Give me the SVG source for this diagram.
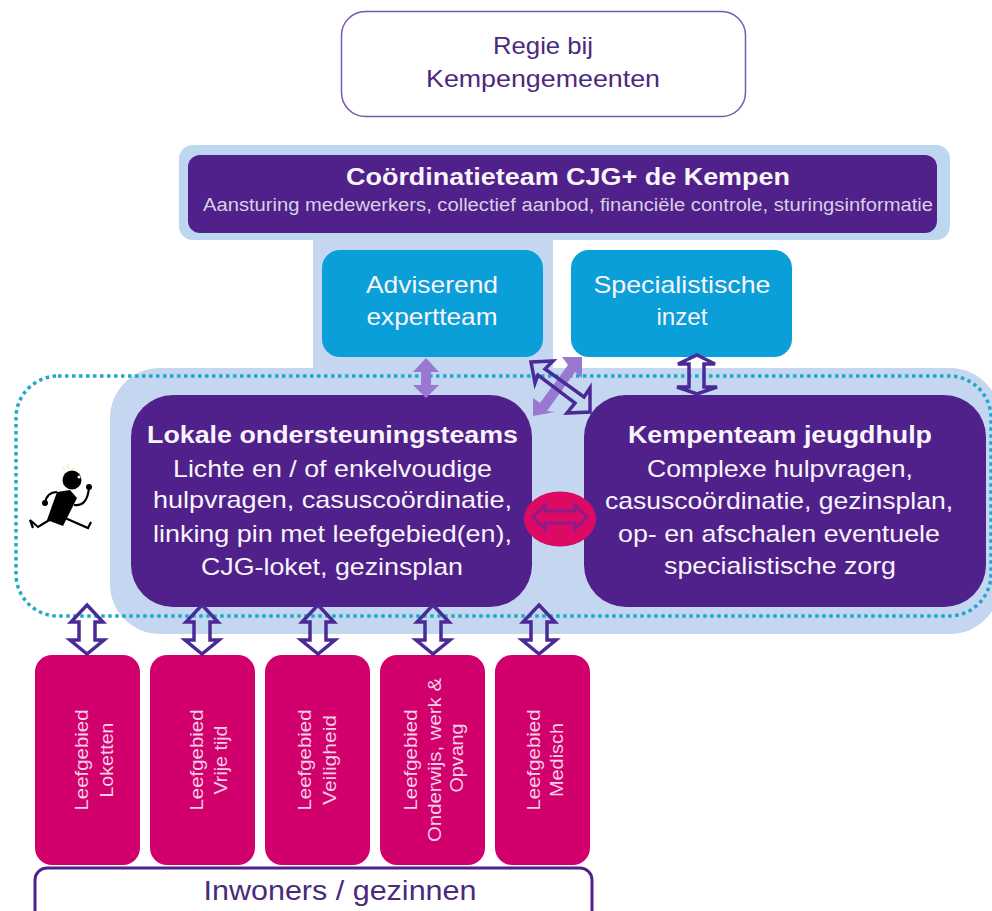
<svg xmlns="http://www.w3.org/2000/svg" width="992" height="911" viewBox="0 0 992 911">
<style>
text{font-family:"Liberation Sans",Arial,sans-serif;text-anchor:middle}
.w{fill:#f8f4fa}
.p{fill:#50218a}
.b{fill:#0a9fd8}
.m{fill:#d1006c}
.l{fill:#c5d6f1}
.t{font-size:24px}
.v{font-size:18px;fill:#f3cfe3}
.o{fill:none;stroke:#4a2a96;stroke-width:3.500;stroke-linejoin:miter}
.s{fill:#9878d0}
</style>
<rect width="992" height="911" fill="#fff"/>
<g id="panels">
<rect x="179" y="145" width="771" height="95" rx="14" fill="#bdd7f0"/>
<rect class="l" x="313" y="235" width="240" height="140"/>
<rect class="l" x="110" y="368" width="890" height="266" rx="50"/>
</g>
<g id="regie">
<rect x="341.500" y="11.500" width="404" height="105" rx="24" fill="#fff" stroke="#7a5aa6" stroke-width="1.500"/>
<text class="t" x="543" y="54" fill="#4a2a7c" textLength="100" lengthAdjust="spacingAndGlyphs">Regie bij</text>
<text class="t" x="543" y="87" fill="#4a2a7c" textLength="234" lengthAdjust="spacingAndGlyphs">Kempengemeenten</text>
</g>
<g id="coordinatieteam">
<rect class="p" x="188" y="155" width="749" height="78" rx="12"/>
<text x="568" y="185" class="t w" font-weight="bold" textLength="444" lengthAdjust="spacingAndGlyphs">Coördinatieteam CJG+ de Kempen</text>
<text x="568" y="211" font-size="18" fill="#d9cfe6" textLength="730" lengthAdjust="spacingAndGlyphs">Aansturing medewerkers, collectief aanbod, financiële controle, sturingsinformatie</text>
</g>
<g id="expertteam">
<rect class="b" x="322" y="250" width="221" height="107" rx="18"/>
<text class="t w" x="432" y="293" textLength="132" lengthAdjust="spacingAndGlyphs">Adviserend</text>
<text class="t w" x="432" y="325" textLength="131" lengthAdjust="spacingAndGlyphs">expertteam</text>
</g>
<g id="specialistisch">
<rect class="b" x="571" y="250" width="221" height="107" rx="18"/>
<text class="t w" x="682" y="293" textLength="177" lengthAdjust="spacingAndGlyphs">Specialistische</text>
<text class="t w" x="682" y="325" textLength="51" lengthAdjust="spacingAndGlyphs">inzet</text>
</g>
<g id="lokaal">
<rect class="p" x="131" y="395" width="401" height="212" rx="42"/>
<text class="t w" x="332.500" y="443" font-weight="bold" textLength="371" lengthAdjust="spacingAndGlyphs">Lokale ondersteuningsteams</text>
<text class="t w" x="332.500" y="477" textLength="319" lengthAdjust="spacingAndGlyphs">Lichte en / of enkelvoudige</text>
<text class="t w" x="332.500" y="508" textLength="359" lengthAdjust="spacingAndGlyphs">hulpvragen, casuscoördinatie,</text>
<text class="t w" x="332.500" y="542" textLength="359" lengthAdjust="spacingAndGlyphs">linking pin met leefgebied(en),</text>
<text class="t w" x="332" y="575" textLength="262" lengthAdjust="spacingAndGlyphs">CJG-loket, gezinsplan</text>
</g>
<g id="kempenteam">
<rect class="p" x="584" y="395" width="402" height="212" rx="42"/>
<text class="t w" x="780" y="443" font-weight="bold" textLength="304" lengthAdjust="spacingAndGlyphs">Kempenteam jeugdhulp</text>
<text class="t w" x="780" y="477" textLength="266" lengthAdjust="spacingAndGlyphs">Complexe hulpvragen,</text>
<text class="t w" x="779" y="509" textLength="348" lengthAdjust="spacingAndGlyphs">casuscoördinatie, gezinsplan,</text>
<text class="t w" x="779" y="542" textLength="322" lengthAdjust="spacingAndGlyphs">op- en afschalen eventuele</text>
<text class="t w" x="780" y="574" textLength="232" lengthAdjust="spacingAndGlyphs">specialistische zorg</text>
</g>
<g id="leef1">
<rect class="m" x="35" y="655" width="105" height="210" rx="17"/>
<text class="v" transform="translate(88 760) rotate(-90)" textLength="101" lengthAdjust="spacingAndGlyphs">Leefgebied</text>
<text class="v" transform="translate(113 760) rotate(-90)" textLength="75" lengthAdjust="spacingAndGlyphs">Loketten</text>
</g>
<g id="leef2">
<rect class="m" x="150" y="655" width="105" height="210" rx="17"/>
<text class="v" transform="translate(203 760) rotate(-90)" textLength="101" lengthAdjust="spacingAndGlyphs">Leefgebied</text>
<text class="v" transform="translate(227 760) rotate(-90)" textLength="69" lengthAdjust="spacingAndGlyphs">Vrije tijd</text>
</g>
<g id="leef3">
<rect class="m" x="265" y="655" width="105" height="210" rx="17"/>
<text class="v" transform="translate(311 760) rotate(-90)" textLength="101" lengthAdjust="spacingAndGlyphs">Leefgebied</text>
<text class="v" transform="translate(336 760) rotate(-90)" textLength="90" lengthAdjust="spacingAndGlyphs">Veiligheid</text>
</g>
<g id="leef4">
<rect class="m" x="380" y="655" width="105" height="210" rx="17"/>
<text class="v" transform="translate(417 760) rotate(-90)" textLength="101" lengthAdjust="spacingAndGlyphs">Leefgebied</text>
<text class="v" transform="translate(441 760) rotate(-90)" textLength="164" lengthAdjust="spacingAndGlyphs">Onderwijs, werk &amp;</text>
<text class="v" transform="translate(463 758) rotate(-90)" textLength="69" lengthAdjust="spacingAndGlyphs">Opvang</text>
</g>
<g id="leef5">
<rect class="m" x="495" y="655" width="95" height="210" rx="17"/>
<text class="v" transform="translate(540 760) rotate(-90)" textLength="101" lengthAdjust="spacingAndGlyphs">Leefgebied</text>
<text class="v" transform="translate(563 760) rotate(-90)" textLength="74" lengthAdjust="spacingAndGlyphs">Medisch</text>
</g>
<g id="inwoners">
<rect x="35" y="868" width="557" height="60" rx="12" fill="#fff" stroke="#50218a" stroke-width="3"/>
<text x="340" y="900" font-size="27" fill="#4a2a7c" textLength="273" lengthAdjust="spacingAndGlyphs">Inwoners / gezinnen</text>
</g>
<g id="figuur">
<circle cx="72" cy="480" r="9.500" fill="#000"/>
<circle cx="79" cy="477" r="1.500" fill="#fff"/>
<path d="M57 492 L70 490 L77 498 L63 526 L47 520 Z" fill="#000"/>
<path d="M57 492 Q47 492 45 503 M74 505 Q87 507 89 488 M51 519 L38 527 L30 520 L33 528 M65 518 L88 528 L91 522" fill="none" stroke="#000" stroke-width="2.200"/>
<circle cx="45" cy="503" r="3" fill="#000"/><circle cx="89" cy="487" r="3" fill="#000"/>
<path d="M62 467 L64 470 M68 464 L68 468 M74 467 L72 470" fill="none" stroke="#f2e88a" stroke-width="1"/>
</g>
<g id="connectors">
<rect x="16" y="376" width="975" height="240" rx="42" fill="none" stroke="#1fa9c9" stroke-width="3.500" stroke-dasharray="3.500 3.500"/>
<path class="s" d="M426 358 L439 372 L431 372 L431 385 L439 385 L426 398 L413 385 L421 385 L421 372 L413 372 Z"/>
<path class="s" d="M533 416 L533 398 L540 403 L568 365 L562 357 L582 357 L582 378 L575 372 L547 411 L555 412 Z"/>
<path class="o" d="M531 362 L553 361 L545 369 L584 397 L590 388 L590 412 L567 413 L575 403 L538 375 L535 383 Z"/>
<path class="o" d="M697 355 L715 364 L704 364 L704 387 L717 387 L697 394 L677 387 L689 387 L689 364 L678 364 Z"/>
<path class="o" d="M87 605 L103 622 L95 622 L95 640 L104 640 L87 654 L70 640 L79 640 L79 622 L71 622 Z"/>
<path class="o" d="M202 605 L218 622 L210 622 L210 640 L219 640 L202 654 L185 640 L194 640 L194 622 L186 622 Z"/>
<path class="o" d="M318 605 L334 622 L326 622 L326 640 L335 640 L318 654 L301 640 L310 640 L310 622 L302 622 Z"/>
<path class="o" d="M433 605 L449 622 L441 622 L441 640 L450 640 L433 654 L416 640 L425 640 L425 622 L417 622 Z"/>
<path class="o" d="M539 605 L555 622 L547 622 L547 640 L556 640 L539 654 L522 640 L531 640 L531 622 L523 622 Z"/>
<ellipse cx="560" cy="519" rx="36" ry="27.500" fill="#dc0a63"/>
<path d="M533 517 L545 505 L545 511 L575 511 L575 505 L587 517 L575 529 L575 523 L545 523 L545 529 Z" fill="none" stroke="#8b1a8a" stroke-width="3"/>
</g>
</svg>
